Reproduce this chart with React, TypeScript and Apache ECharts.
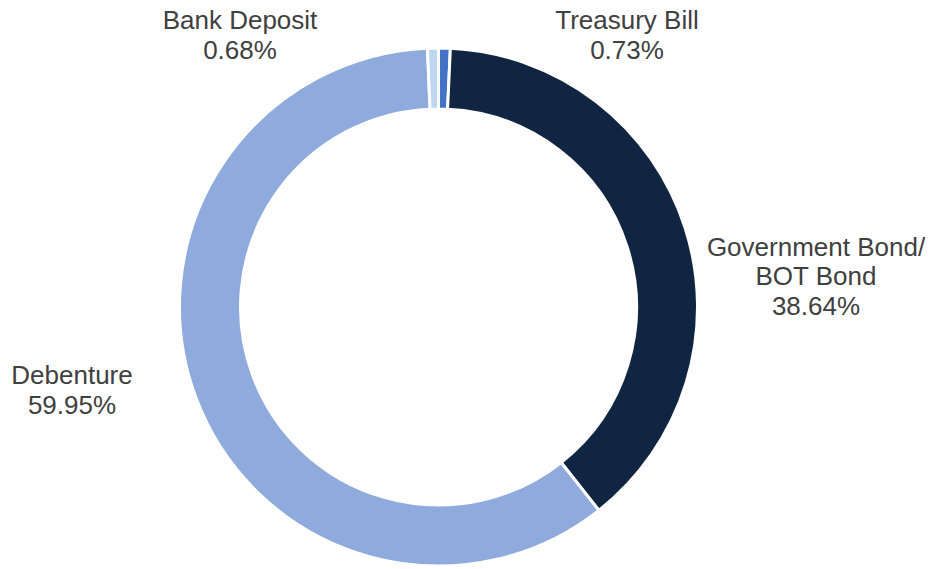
import React, { useEffect, useRef } from "react";
import * as echarts from "echarts";

const categories = ["Treasury Bill", "Government Bond/\nBOT Bond", "Debenture", "Bank Deposit"];
const values = [0.73, 38.64, 59.95, 0.68];
const colors = ["#4472C4", "#0F2542", "#8FAADC", "#BDD7EE"];
const labelPos: [number, number][] = [
  [627, 35],
  [816, 276],
  [72, 390],
  [240, 35],
];

export default function App() {
  const ref = useRef<HTMLDivElement>(null);
  useEffect(() => {
    if (!ref.current) return;
    const chart = echarts.init(ref.current, undefined, { renderer: "svg" });
    chart.setOption({
      animation: false,
      backgroundColor: "#ffffff",
      series: [
        {
          type: "pie",
          center: [438.5, 307],
          radius: [198, 259],
          startAngle: 90,
          clockwise: true,
          avoidLabelOverlap: false,
          itemStyle: { borderColor: "#ffffff", borderWidth: 3 },
          label: {
            show: true,
            position: "outside",
            fontFamily: '"Liberation Sans", Arial, sans-serif',
            fontSize: 26,
            lineHeight: 29.5,
            color: "#404040",
            align: "center",
            formatter: (p: any) => `${p.name}\n${Number(p.value).toFixed(2)}%`,
          },
          labelLine: { show: false },
          labelLayout: (p: any) => ({
            x: labelPos[p.dataIndex][0],
            y: labelPos[p.dataIndex][1],
            align: "center",
            verticalAlign: "middle",
          }),
          data: categories.map((c, i) => ({
            name: c,
            value: values[i],
            itemStyle: { color: colors[i] },
          })),
        },
      ],
    });
    return () => chart.dispose();
  }, []);
  return (
    <div
      ref={ref}
      style={{ position: "fixed", left: 0, top: 0, width: 928, height: 569 }}
    />
  );
}
